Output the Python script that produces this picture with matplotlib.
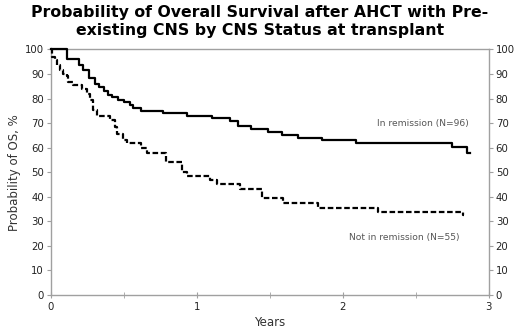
import numpy as np
import matplotlib.pyplot as plt

# Kaplan-Meier steps (years, OS %)
t_rem = [0, 0.107, 0.19, 0.22, 0.26, 0.30, 0.33, 0.36, 0.39, 0.42, 0.46, 0.50, 0.54,
         0.56, 0.62, 0.77, 0.93, 1.10, 1.23, 1.28, 1.37, 1.49, 1.58, 1.69, 1.86, 2.09,
         2.75, 2.85, 2.87]
os_rem = [100, 96, 93.5, 91.5, 88.5, 86, 84.5, 83, 81.5, 80.5, 79.5, 78.5, 77.5,
          76, 75, 74.3, 73, 72, 71, 68.7, 67.5, 66.4, 65.3, 64, 63, 61.7,
          60.3, 58, 58]

t_not = [0, 0.01, 0.027, 0.039, 0.062, 0.084, 0.107, 0.119, 0.153, 0.21, 0.244, 0.267,
         0.29, 0.313, 0.404, 0.438, 0.45, 0.495, 0.518, 0.62, 0.655, 0.678, 0.79,
         0.895, 0.93, 1.09, 1.135, 1.295, 1.443, 1.59, 1.83, 2.24, 2.82, 2.83]
os_not = [100, 97, 95.5, 93.5, 91.5, 90, 89, 86.7, 85.4, 84, 82, 79.3,
          75.2, 72.8, 71.4, 68.4, 65.7, 63.3, 61.7, 60, 58, 58, 54.2,
          50.1, 48.4, 46.7, 45.1, 43.1, 39.3, 37.3, 35.6, 33.6, 32.5, 32.5]

fig = plt.figure(figsize=(5.2, 3.34), dpi=100)
ax = fig.add_axes([0.098, 0.117, 0.842, 0.735])

ax.step(t_rem, os_rem, where='post', color='black', lw=1.6, clip_on=False, zorder=3)
ax.step(t_not, os_not, where='post', color='black', lw=1.6, linestyle=(0, (2.5, 1.2)),
        clip_on=False, zorder=3)

ax.text(2.55, 70, 'In remission (N=96)', fontsize=6.6, color='#555555', ha='center', va='center')
ax.text(2.42, 23.5, 'Not in remission (N=55)', fontsize=6.6, color='#555555', ha='center', va='center')

ax.set_xlim(0, 3)
ax.set_ylim(0, 100)
ax.set_xticks([0, 1, 2, 3])
ax.set_xticks([0.5, 1.5, 2.5], minor=True)
ax.set_yticks(np.arange(0, 101, 10))
for s in ax.spines.values():
    s.set_color('#a0a0a0')
    s.set_linewidth(1)
ax.tick_params(axis='y', which='both', left=True, right=True, labelleft=True, labelright=True,
               direction='out', length=3, color='#a0a0a0', labelsize=7.3, labelcolor='#222222', pad=2)
ax.tick_params(axis='x', which='both', direction='inout', length=4, color='#a0a0a0',
               labelsize=7.3, labelcolor='#222222', pad=3)

ax.set_xlabel('Years', fontsize=8.5, color='#333333', labelpad=3)
ax.set_ylabel('Probability of OS, %', fontsize=8.5, color='#333333', labelpad=3)

fig.text(0.5, 0.985, 'Probability of Overall Survival after AHCT with Pre-\nexisting CNS by CNS Status at transplant',
         ha='center', va='top', fontsize=11.3, fontweight='bold', linespacing=1.25)

fig.savefig('out.png', dpi=100)
